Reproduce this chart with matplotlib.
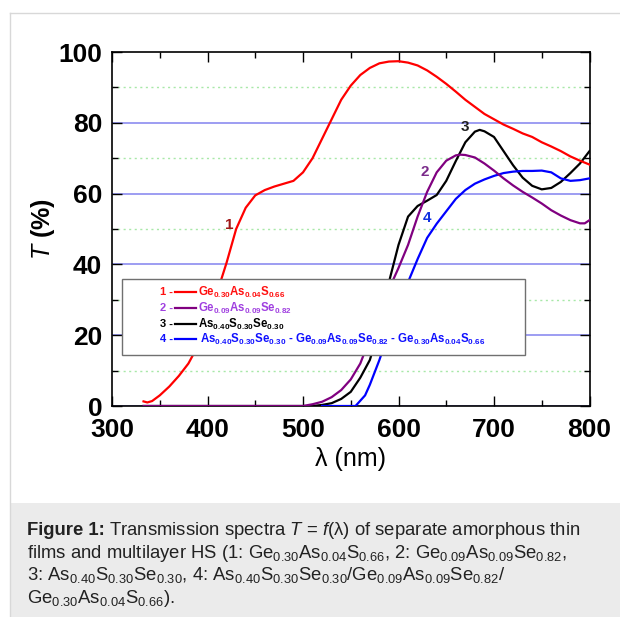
import matplotlib
matplotlib.use("Agg")
import matplotlib.pyplot as plt
from matplotlib.patches import Rectangle
from matplotlib.lines import Line2D

plt.rcParams['font.family'] = ['Liberation Sans', 'DejaVu Sans']
plt.rcParams['mathtext.fontset'] = 'custom'
plt.rcParams['mathtext.rm'] = 'Liberation Sans'
plt.rcParams['mathtext.it'] = 'Liberation Sans:italic'
plt.rcParams['mathtext.bf'] = 'Liberation Sans:bold'
plt.rcParams['mathtext.default'] = 'regular'

# ---------------- data ----------------
wl_1 = [333, 337, 342, 350, 360, 370, 380, 390, 400, 410, 420, 430, 440, 450, 460, 470,
        480, 490, 500, 510, 520, 530, 540, 550, 560, 570, 580, 590, 600, 610, 620, 630,
        640, 650, 660, 670, 680, 690, 700, 710, 720, 730, 740, 750, 760, 770, 780, 790, 800]
T_1 = [1.3, 1.0, 1.4, 3.0, 5.5, 8.5, 12.0, 17.0, 24.0, 32.0, 40.5, 50.0, 56.0, 59.5, 61.0, 62.0,
       62.8, 63.6, 66.0, 70.0, 75.5, 81.0, 86.5, 90.5, 93.5, 95.5, 96.8, 97.3, 97.4, 97.0, 96.2, 94.8,
       93.0, 91.0, 88.8, 86.5, 84.5, 82.5, 81.0, 79.5, 78.3, 77.0, 76.0, 74.5, 73.3, 72.0, 70.5, 69.3, 68.2]

wl_2 = [333, 400, 500, 510, 520, 530, 540, 550, 560, 570, 580, 590, 600, 610, 620, 630,
        640, 650, 660, 665, 670, 680, 690, 700, 710, 720, 730, 740, 750, 760, 770, 780, 790, 795, 800]
T_2 = [0.0, 0.0, 0.0, 0.5, 1.2, 2.5, 4.5, 7.5, 12.0, 19.0, 26.0, 33.0, 39.0, 45.5, 53.5, 60.5,
       66.0, 69.3, 70.8, 71.0, 70.9, 70.2, 68.5, 66.5, 64.3, 62.3, 60.5, 58.9, 57.2, 55.3, 53.8, 52.5, 51.6, 51.6, 52.5]

wl_3 = [333, 400, 510, 520, 530, 540, 550, 560, 570, 580, 590, 600, 610, 620, 630, 640,
        650, 660, 670, 680, 685, 690, 700, 710, 720, 730, 740, 750, 760, 770, 780, 790, 800]
T_3 = [0.0, 0.0, 0.0, 0.3, 0.8, 2.0, 4.0, 8.0, 13.0, 22.0, 35.0, 45.5, 53.5, 56.5, 58.0, 59.6,
       63.6, 69.2, 74.5, 77.5, 78.0, 77.6, 76.0, 72.0, 68.0, 64.5, 62.2, 61.2, 61.6, 63.3, 65.8, 68.5, 72.0]

wl_4 = [520, 540, 555, 560, 565, 570, 580, 590, 600, 610, 620, 630, 640, 650, 660, 670,
        680, 690, 700, 710, 720, 730, 740, 750, 760, 770, 780, 790, 800]
T_4 = [0.0, 0.0, 0.0, 1.5, 3.0, 6.0, 13.0, 21.0, 29.0, 35.0, 41.5, 47.5, 51.5, 55.0, 58.5, 61.0,
       62.8, 64.0, 65.0, 65.8, 66.2, 66.4, 66.4, 66.5, 66.0, 64.3, 63.6, 63.8, 64.3]

curve_colors = ['#ff0000', '#800080', '#000000', '#0000ff']
legend_nums = ['1 -', '2 -', '3 -', '4 -']
legend_labels = [r'Ge$_{0.30}$As$_{0.04}$S$_{0.66}$',
                 r'Ge$_{0.09}$As$_{0.09}$Se$_{0.82}$',
                 r'As$_{0.40}$S$_{0.30}$Se$_{0.30}$',
                 r'As$_{0.40}$S$_{0.30}$Se$_{0.30}$ - Ge$_{0.09}$As$_{0.09}$Se$_{0.82}$ - Ge$_{0.30}$As$_{0.04}$S$_{0.66}$']
legend_text_colors = ['#ff1010', '#a040e0', '#000000', '#1010ff']

x_ticks = [300, 400, 500, 600, 700, 800]
y_ticks = [0, 20, 40, 60, 80, 100]

caption_head = 'Figure 1:'
caption_lines = [
    r'Transmission spectra $\mathit{T}$ = $\mathit{f}$(λ) of separate amorphous thin',
    r'films and multilayer HS (1: Ge$_{0.30}$As$_{0.04}$S$_{0.66}$, 2: Ge$_{0.09}$As$_{0.09}$Se$_{0.82}$,',
    r'3: As$_{0.40}$S$_{0.30}$Se$_{0.30}$, 4: As$_{0.40}$S$_{0.30}$Se$_{0.30}$/Ge$_{0.09}$As$_{0.09}$Se$_{0.82}$/',
    r'Ge$_{0.30}$As$_{0.04}$S$_{0.66}$).',
]

# ---------------- figure ----------------
W, H = 620, 617
fig = plt.figure(figsize=(W / 100, H / 100), dpi=100)
fig.patch.set_facecolor('white')

# caption panel and frame
fig.add_artist(Rectangle((10 / W, 0), 1 - 10 / W, (H - 503) / H, transform=fig.transFigure,
                         facecolor='#ebebeb', edgecolor='none', zorder=0))
fig.add_artist(Line2D([10 / W, 10 / W], [0, (H - 13) / H], transform=fig.transFigure,
                      color='#d8d8d8', lw=1.0))
fig.add_artist(Line2D([10 / W, 1], [(H - 13) / H, (H - 13) / H], transform=fig.transFigure,
                      color='#d8d8d8', lw=1.0))

ax_l, ax_r, ax_t, ax_b = 112, 589.5, 52, 406
ax = fig.add_axes([ax_l / W, (H - ax_b) / H, (ax_r - ax_l) / W, (ax_b - ax_t) / H])
ax.set_xlim(300, 800)
ax.set_ylim(0, 100)

# grid
for g in [0, 20, 40, 60, 80]:
    ax.axhline(g, color='#8c8cf0', lw=1.2, zorder=1)
for g in [10, 30, 50, 70, 90]:
    ax.axhline(g, color='#a8e8a8', lw=1.0, ls=(0, (1.5, 2.5)), zorder=1)

ax.plot(wl_3, T_3, color=curve_colors[2], lw=1.6, zorder=3)
ax.plot(wl_4, T_4, color=curve_colors[3], lw=1.6, zorder=3)
ax.plot(wl_2, T_2, color=curve_colors[1], lw=1.6, zorder=4)
ax.plot(wl_1, T_1, color=curve_colors[0], lw=1.6, zorder=4)

# ticks
ax.set_xticks(x_ticks)
ax.set_xticks(range(300, 801, 50), minor=True)
ax.set_yticks(y_ticks)
ax.set_yticks(range(0, 101, 10), minor=True)
ax.tick_params(which='both', direction='in', top=True, right=True, width=1.0, color='black')
ax.tick_params(which='major', length=7)
ax.tick_params(which='minor', length=4)
ax.tick_params(axis='y', labelsize=19, pad=7)
ax.tick_params(axis='x', labelsize=19, pad=8.5)
for lab in ax.get_xticklabels() + ax.get_yticklabels():
    lab.set_fontweight('bold')
for s in ax.spines.values():
    s.set_linewidth(1.2)

ax.set_xlabel('λ (nm)', fontsize=18, labelpad=4)
ax.set_ylabel(r'$\mathbf{\mathit{T}}$ (%)', fontsize=18, labelpad=1, fontweight='bold')

# curve numbers
def ax_px(px, py):
    return ((px - ax_l) / (ax_r - ax_l), (ax_b - py) / (ax_b - ax_t))

for txt, (px, py), c in zip(['1', '2', '3', '4'],
                            [(229, 225), (425, 172), (465, 127), (427, 218)],
                            ['#a01818', '#7a2a8a', '#202020', '#1030e0']):
    ax.text(*ax_px(px, py), txt, transform=ax.transAxes, fontsize=11, fontweight='bold',
            color=c, ha='center', va='center', zorder=6)

# legend box
x0, y0 = ax_px(121.7, 355)
x1, y1 = ax_px(525, 279)
ax.add_patch(Rectangle((x0, y0), x1 - x0, y1 - y0, transform=ax.transAxes,
                       facecolor='white', edgecolor='#707070', lw=1.0, zorder=7))
rows_py = [292, 308, 324, 339]
for i in range(4):
    nx, ny = ax_px(167, rows_py[i])
    ax.text(nx, ny, legend_nums[i], transform=ax.transAxes, fontsize=8, fontweight='bold',
            color=legend_text_colors[i], ha='center', va='center', zorder=8)
    lx0, ly = ax_px(175, rows_py[i])
    lx1, _ = ax_px(195.7, rows_py[i])
    ax.add_line(Line2D([lx0, lx1], [ly, ly], transform=ax.transAxes, color=curve_colors[i],
                       lw=1.6, zorder=8))
    tx, _ = ax_px(198 if i < 3 else 200, rows_py[i])
    ax.text(tx, ly, legend_labels[i], transform=ax.transAxes, fontsize=8.3, fontweight='bold',
            color=legend_text_colors[i], ha='left', va='center', zorder=8)

# caption
cap_fs = 13.3
cap_x = 27
cap_y0 = 535
head = fig.text(cap_x / W, (H - cap_y0) / H, caption_head, fontsize=cap_fs, fontweight='bold',
                color='#222222', ha='left', va='baseline')
fig.canvas.draw()
head_bb = head.get_window_extent(renderer=fig.canvas.get_renderer())
for i, line in enumerate(caption_lines):
    x = (head_bb.x1 + 4) / W if i == 0 else cap_x / W
    fig.text(x, (H - (cap_y0 + 22.7 * i)) / H, line, fontsize=cap_fs, color='#222222',
             ha='left', va='baseline')

fig.savefig('out.png', dpi=100)
